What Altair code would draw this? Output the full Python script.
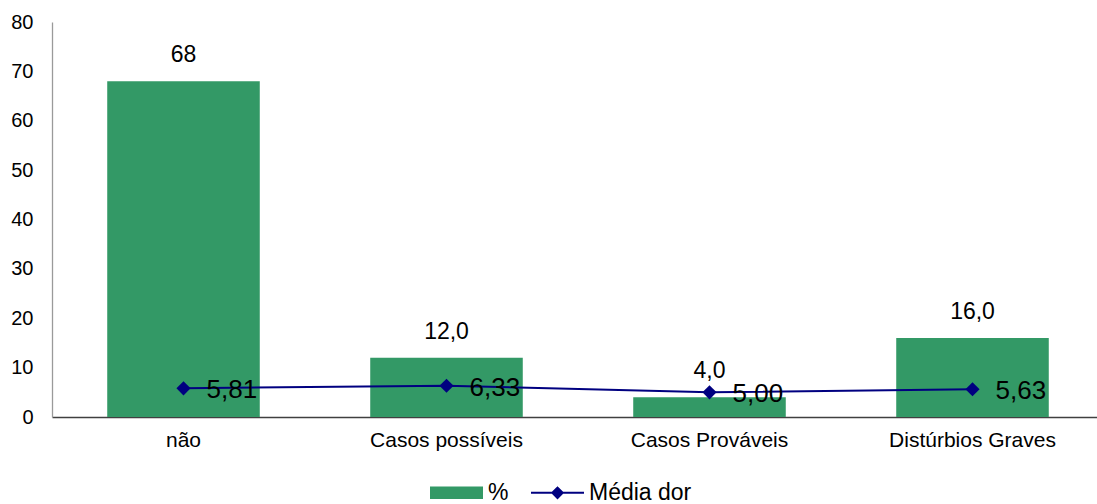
import altair as alt
import pandas as pd

categories = ["não", "Casos possíveis", "Casos Prováveis", "Distúrbios Graves"]
pct_values = [68, 12, 4, 16]
pct_labels = ["68", "12,0", "4,0", "16,0"]
media_values = [5.81, 6.33, 5.00, 5.63]
media_labels = ["5,81", "6,33", "5,00", "5,63"]
y_ticks = [0, 10, 20, 30, 40, 50, 60, 70, 80]
series_names = ["%", "Média dor"]

GREEN = "#339966"
NAVY = "#000080"
FONT = "Liberation Sans"

df = pd.DataFrame({
    "cat": categories,
    "pct": pct_values,
    "pct_label": pct_labels,
    "media": media_values,
    "media_label": media_labels,
    "s_bar": series_names[0],
    "s_line": series_names[1],
})

rect_path = "M-1,-0.24H1V0.24H-1Z"
line_path = "M-1,-0.04H1V0.04H-1Z M0,-0.25L0.25,0L0,0.25L-0.25,0Z"

x_enc = alt.X("cat:N", sort=categories, title=None,
              scale=alt.Scale(paddingInner=0.42, range=[0, 1052]),
              axis=alt.Axis(labelAngle=0, labelFontSize=21, labelFont=FONT,
                            labelColor="black", ticks=False, labelPadding=12,
                            domainColor="#404040", domainWidth=1.3))
y_scale = alt.Scale(domain=[0, 80], nice=False)
y_axis = alt.Axis(values=y_ticks, grid=False, ticks=False, labelFontSize=20,
                  labelFont=FONT, labelColor="black", labelPadding=19,
                  domainColor="#9a9a9a", domainWidth=1.3, title=None)

color_scale = alt.Scale(domain=series_names, range=[GREEN, NAVY])
shape_scale = alt.Scale(domain=series_names, range=[rect_path, line_path])
legend = alt.Legend(title=None, orient="none", direction="horizontal",
                    legendX=378, legendY=444, labelFontSize=23, labelFont=FONT,
                    labelColor="black", symbolSize=2809, symbolStrokeWidth=0,
                    labelOffset=5, columnPadding=22, symbolOpacity=1)

bars = alt.Chart(df).mark_bar(color=GREEN).encode(
    x=x_enc,
    y=alt.Y("pct:Q", scale=y_scale, axis=y_axis),
    color=alt.Color("s_bar:N", scale=color_scale, legend=legend),
)

bar_text = alt.Chart(df).mark_text(fontSize=23, font=FONT, color="black",
                                   baseline="middle", dy=-26).encode(
    x=alt.X("cat:N", sort=categories),
    y=alt.Y("pct:Q"),
    text="pct_label:N",
)

line = alt.Chart(df).mark_line(color=NAVY, strokeWidth=2).encode(
    x=alt.X("cat:N", sort=categories),
    y=alt.Y("media:Q"),
)

points = alt.Chart(df).mark_point(filled=True, size=200).encode(
    x=alt.X("cat:N", sort=categories),
    y=alt.Y("media:Q"),
    color=alt.Color("s_line:N", scale=color_scale, legend=legend),
    shape=alt.Shape("s_line:N", scale=shape_scale, legend=legend),
    opacity=alt.value(0),
)
points_diamond = alt.Chart(df).mark_point(filled=True, opacity=1, size=200,
                                          shape="diamond", color=NAVY).encode(
    x=alt.X("cat:N", sort=categories),
    y=alt.Y("media:Q"),
)

line_text = alt.Chart(df).mark_text(fontSize=26, font=FONT, color="black",
                                    align="left", baseline="middle", dx=23, dy=2).encode(
    x=alt.X("cat:N", sort=categories),
    y=alt.Y("media:Q"),
    text="media_label:N",
)

chart = alt.layer(bars, bar_text, line, points, points_diamond, line_text).properties(
    width=1045,
    height=395,
    autosize=alt.AutoSizeParams(type="none"),
    padding={"left": 52, "top": 22, "right": 0, "bottom": 87},
).configure_view(stroke=None)

chart.save("out.html", embed_options={"renderer": "svg", "actions": False})
